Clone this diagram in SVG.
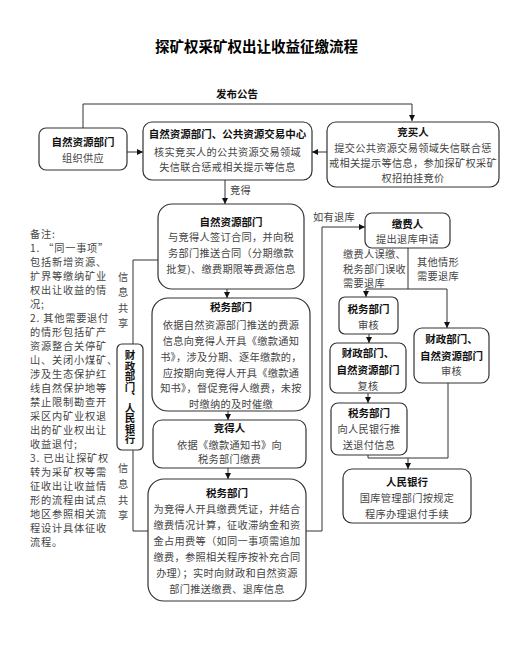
<svg xmlns="http://www.w3.org/2000/svg" width="530" height="645" viewBox="0 0 530 645">
<style>
text{font-family:"Noto Sans CJK SC","Noto Sans",sans-serif}
.ttl{font-size:14.5px;font-weight:bold;fill:#000;text-anchor:middle}
.h{font-size:10.5px;font-weight:bold;fill:#111;text-anchor:middle}
.b{font-size:10.2px;fill:#444;text-anchor:middle;letter-spacing:0.3px}
.l{font-size:10.2px;fill:#444;letter-spacing:0.3px}
.n{font-size:10.2px;fill:#444;letter-spacing:0.8px}
.v{writing-mode:vertical-rl}
.box{fill:#fff;stroke:#333;stroke-width:1.2}
.ln{fill:none;stroke:#333;stroke-width:1}
</style>
<defs>
<marker id="ar" markerUnits="userSpaceOnUse" markerWidth="6" markerHeight="6" refX="6" refY="3" orient="auto">
<path d="M0,0 L6,3 L0,6 z" fill="#111"/>
</marker>
</defs>
<rect width="530" height="645" fill="#fff"/>
<text class="ttl" x="256.5" y="52">探矿权采矿权出让收益征缴流程</text>

<g id="connectors">
<polyline class="ln" points="83,128 83,104 412,104 412,121" marker-end="url(#ar)"/>
<line class="ln" x1="127" y1="152" x2="143" y2="152" marker-end="url(#ar)"/>
<line class="ln" x1="327" y1="152" x2="312" y2="152" marker-end="url(#ar)"/>
<line class="ln" x1="225" y1="180" x2="225" y2="204" marker-end="url(#ar)"/>
<line class="ln" x1="227" y1="289" x2="227" y2="298" marker-end="url(#ar)"/>
<line class="ln" x1="228" y1="411" x2="228" y2="420" marker-end="url(#ar)"/>
<line class="ln" x1="228" y1="468" x2="228" y2="479" marker-end="url(#ar)"/>
<polyline class="ln" points="158,260 133,260 133,344"/>
<polyline class="ln" points="133,450 133,531 148,531"/>
<polyline class="ln" points="306,531 322,531 322,227 365,227" marker-end="url(#ar)"/>
<line class="ln" x1="408" y1="248" x2="408" y2="289"/>
<polyline class="ln" points="366,289 447,289 447,328" marker-end="url(#ar)"/>
<line class="ln" x1="366" y1="289" x2="366" y2="297" marker-end="url(#ar)"/>
<line class="ln" x1="369" y1="334" x2="369" y2="343" marker-end="url(#ar)"/>
<line class="ln" x1="368" y1="393" x2="368" y2="403" marker-end="url(#ar)"/>
<polyline class="ln" points="368,455 368,458 448,458 448,383"/>
<line class="ln" x1="408" y1="458" x2="408" y2="469" marker-end="url(#ar)"/>
<text class="h" x="237" y="98">发布公告</text>
<text class="l" x="230" y="194">竞得</text>
<text class="l" x="313" y="221">如有退库</text>
<text class="l" x="343" y="258">缴费人误缴、</text>
<text class="l" x="343" y="273">税务部门误收</text>
<text class="l" x="343" y="287">需要退库</text>
<text class="l" x="417" y="266">其他情形</text>
<text class="l" x="417" y="280">需要退库</text>
<text class="l v" x="123" y="272" style="letter-spacing:5.2px">信息共享</text>
<text class="l v" x="123" y="463" style="letter-spacing:5.6px">信息共享</text>
</g>

<g id="n-supply">
<rect class="box" x="39" y="128" width="88" height="42" rx="7"/>
<text class="h" x="83" y="146">自然资源部门</text>
<text class="b" x="83" y="162">组织供应</text>
</g>

<g id="n-center">
<rect class="box" x="143" y="122" width="169" height="58" rx="9"/>
<text class="h" x="227.5" y="138">自然资源部门、公共资源交易中心</text>
<text class="b" x="227.5" y="156">核实竞买人的公共资源交易领域</text>
<text class="b" x="227.5" y="171">失信联合惩戒相关提示等信息</text>
</g>

<g id="n-bidder">
<rect class="box" x="327" y="122" width="172" height="65" rx="9"/>
<text class="h" x="413" y="136">竞买人</text>
<text class="b" x="413" y="152">提交公共资源交易领域失信联合惩</text>
<text class="b" x="413" y="167">戒相关提示等信息，参加探矿权采矿</text>
<text class="b" x="413" y="182">权招拍挂竞价</text>
</g>

<g id="n-contract">
<rect class="box" x="158" y="204" width="146" height="85" rx="14"/>
<text class="h" x="231" y="226">自然资源部门</text>
<text class="b" x="231" y="241">与竞得人签订合同，并向税</text>
<text class="b" x="231" y="257">务部门推送合同（分期缴款</text>
<text class="b" x="231" y="273">批复)、缴费期限等费源信息</text>
</g>

<g id="n-tax1">
<rect class="box" x="152" y="298" width="158" height="113" rx="16"/>
<text class="h" x="231" y="311">税务部门</text>
<text class="b" x="231" y="329">依据自然资源部门推送的费源</text>
<text class="b" x="231" y="345">信息向竞得人开具《缴款通知</text>
<text class="b" x="231" y="361">书》，涉及分期、逐年缴款的，</text>
<text class="b" x="231" y="377">应按期向竞得人开具《缴款通</text>
<text class="b" x="231" y="392">知书》，督促竞得人缴费，未按</text>
<text class="b" x="231" y="408">时缴纳的及时催缴</text>
</g>

<g id="n-winner">
<rect class="box" x="153" y="420" width="153" height="48" rx="9"/>
<text class="h" x="229.5" y="432">竞得人</text>
<text class="b" x="229.5" y="449">依据《缴款通知书》向</text>
<text class="b" x="229.5" y="463">税务部门缴费</text>
</g>

<g id="n-tax2">
<rect class="box" x="148" y="479" width="158" height="122" rx="16"/>
<text class="h" x="227" y="497">税务部门</text>
<text class="b" x="227" y="513">为竞得人开具缴费凭证，并结合</text>
<text class="b" x="227" y="529">缴费情况计算，征收滞纳金和资</text>
<text class="b" x="227" y="545">金占用费等（如同一事项需追加</text>
<text class="b" x="227" y="561">缴费，参照相关程序按补充合同</text>
<text class="b" x="227" y="577">办理）；实时向财政和自然资源</text>
<text class="b" x="227" y="593">部门推送缴费、退库信息</text>
</g>

<g id="n-finance-bank">
<rect class="box" x="117" y="344" width="26" height="106" rx="5"/>
<text class="h v" x="130" y="350" style="text-anchor:start;letter-spacing:0px">财政部门、人民银行</text>
</g>

<g id="n-payer">
<rect class="box" x="365" y="213" width="85" height="35" rx="7"/>
<text class="h" x="407.5" y="228">缴费人</text>
<text class="b" x="407.5" y="243">提出退库申请</text>
</g>

<g id="n-tax-review">
<rect class="box" x="339" y="297" width="59" height="37" rx="6"/>
<text class="h" x="368.5" y="313">税务部门</text>
<text class="b" x="368.5" y="329">审核</text>
</g>

<g id="n-recheck">
<rect class="box" x="330" y="343" width="76" height="50" rx="7"/>
<text class="h" x="368" y="357">财政部门、</text>
<text class="h" x="368" y="374">自然资源部门</text>
<text class="b" x="368" y="390">复核</text>
</g>

<g id="n-tax-push">
<rect class="box" x="331" y="403" width="76" height="52" rx="7"/>
<text class="h" x="369" y="417">税务部门</text>
<text class="b" x="369" y="433">向人民银行推</text>
<text class="b" x="369" y="449">送退付信息</text>
</g>

<g id="n-other-review">
<rect class="box" x="414" y="328" width="75" height="55" rx="8"/>
<text class="h" x="451.5" y="343">财政部门、</text>
<text class="h" x="451.5" y="360">自然资源部门</text>
<text class="b" x="451.5" y="375">审核</text>
</g>

<g id="n-bank">
<rect class="box" x="343" y="469" width="128" height="54" rx="9"/>
<text class="h" x="407" y="486">人民银行</text>
<text class="b" x="407" y="502">国库管理部门按规定</text>
<text class="b" x="407" y="518">程序办理退付手续</text>
</g>

<g id="notes" class="n">
<text x="30" y="238">备注:</text>
<text x="30" y="252">1. “同一事项”</text>
<text x="30" y="266">包括新增资源、</text>
<text x="30" y="280">扩界等缴纳矿业</text>
<text x="30" y="294">权出让收益的情</text>
<text x="30" y="308">况;</text>
<text x="30" y="322">2. 其他需要退付</text>
<text x="30" y="336">的情形包括矿产</text>
<text x="30" y="350">资源整合关停矿</text>
<text x="30" y="364">山、关闭小煤矿、</text>
<text x="30" y="378">涉及生态保护红</text>
<text x="30" y="392">线自然保护地等</text>
<text x="30" y="406">禁止限制勘查开</text>
<text x="30" y="420">采区内矿业权退</text>
<text x="30" y="434">出的矿业权出让</text>
<text x="30" y="448">收益退付;</text>
<text x="30" y="462">3. 已出让探矿权</text>
<text x="30" y="476">转为采矿权等需</text>
<text x="30" y="490">征收出让收益情</text>
<text x="30" y="504">形的流程由试点</text>
<text x="30" y="518">地区参照相关流</text>
<text x="30" y="532">程设计具体征收</text>
<text x="30" y="546">流程。</text>
</g>
</svg>
